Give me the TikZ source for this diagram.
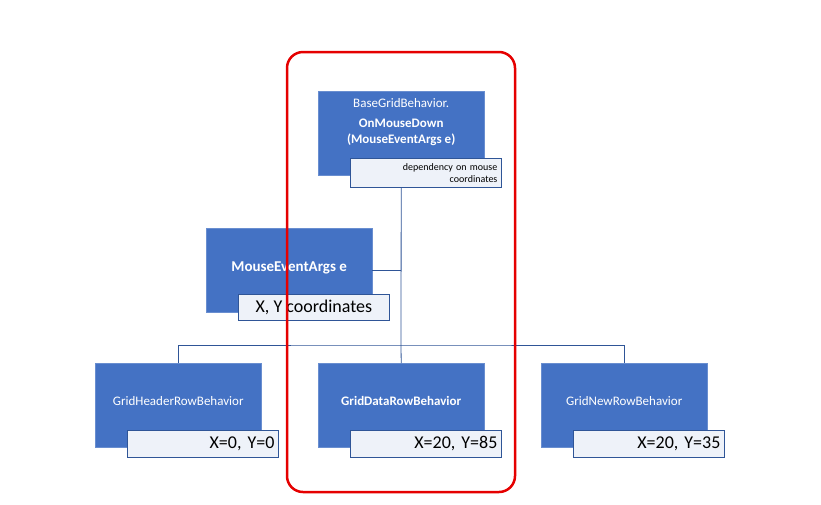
\documentclass[tikz,border=0pt]{standalone}
\usepackage{fontspec}
\setmainfont{Carlito}
\usetikzlibrary{positioning}
\definecolor{boxblue}{HTML}{4472C4}
\definecolor{lineblue}{HTML}{2F5597}
\definecolor{tagfill}{HTML}{EEF2F9}
\tikzset{
  behavior/.style={fill=boxblue, draw=boxblue!80!white, text=white, minimum width=166pt, minimum height=84pt, inner sep=2pt, align=center, font=\fontsize{13}{16}\selectfont},
  tag/.style={fill=tagfill, draw=lineblue, thick, minimum width=151pt, minimum height=27pt, inner sep=3pt, align=right, text=black},
  link/.style={draw=lineblue, thick}
}
\begin{document}
\begin{tikzpicture}[x=1pt, y=-1pt]
            \useasboundingbox (0,0) rectangle (821,504);
            \node[behavior, anchor=north west] (base) at (318,91) {\raisebox{14pt}{BaseGridBehavior.}\\[-10pt]\textbf{OnMouseDown}\\\textbf{(MouseEventArgs e)}\\[8pt]};
            \node[tag, anchor=north west, minimum height=29pt, text width=143pt, font=\fontsize{10}{12}\selectfont] (basetag) at (350,158) {dependency on mouse\\coordinates};
            \node[behavior, anchor=north west, font=\fontsize{15}{18}\selectfont\bfseries] (args) at (206,228) {\raisebox{8pt}{MouseEventArgs e}};
            \node[tag, anchor=north west, minimum height=26pt, font=\fontsize{18}{20}\selectfont] (argstag) at (238,294) {X, Y coordinates};
            \node[behavior, anchor=north west] (header) at (95,363) {\raisebox{8pt}{GridHeaderRowBehavior}};
            \node[tag, anchor=north west, font=\fontsize{18}{20}\selectfont, text width=143pt] (headertag) at (127,430) {X=0, Y=0};
            \node[behavior, anchor=north west, font=\fontsize{13}{16}\selectfont\bfseries] (data) at (318,363) {\raisebox{8pt}{GridDataRowBehavior}};
            \node[tag, anchor=north west, font=\fontsize{18}{20}\selectfont, text width=143pt] (datatag) at (350,430) {X=20, Y=85};
            \node[behavior, anchor=north west] (newrow) at (541,363) {\raisebox{8pt}{GridNewRowBehavior}};
            \node[tag, anchor=north west, font=\fontsize{18}{20}\selectfont, text width=143pt] (newrowtag) at (573,430) {X=20, Y=35};
            % connectors
            \coordinate (bus) at (401,345);
            \draw[link] (basetag.south -| base.south) -- (bus);
            \draw[link] (args.east) -- (args.east -| bus);
            \draw[link] (header.north) |- (bus) -| (newrow.north);
            \draw[link] (bus) -- (data.north);
            % highlight frame
            \draw[red!90!black, line width=2.5pt, rounded corners=16pt] (287,52) rectangle (515,492);
        \end{tikzpicture}
\end{document}
